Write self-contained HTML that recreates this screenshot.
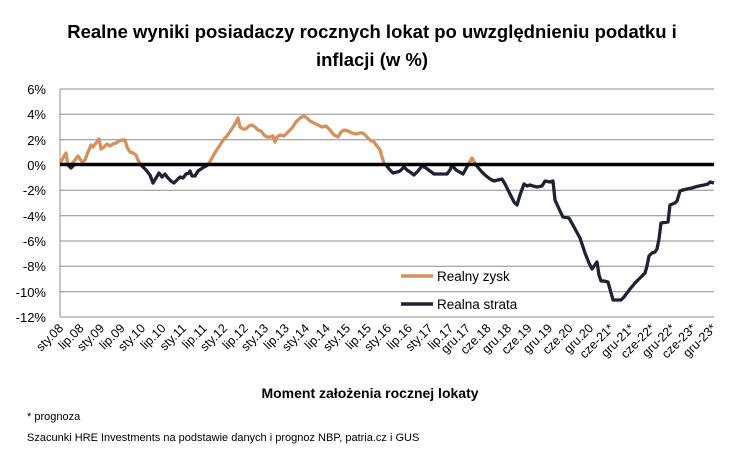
<!DOCTYPE html>
<html><head><meta charset="utf-8"><style>
body{margin:0;background:#fff;}
svg{display:block;font-family:"Liberation Sans",sans-serif;}
</style></head><body>
<svg width="740" height="458" viewBox="0 0 740 458">
<rect width="740" height="458" fill="#fff"/>
<text x="372" y="38" font-size="18.5" font-weight="bold" text-anchor="middle" fill="#000">Realne wyniki posiadaczy rocznych lokat po uwzględnieniu podatku i</text>
<text x="372" y="66" font-size="18.5" font-weight="bold" text-anchor="middle" fill="#000">inflacji (w %)</text>
<g stroke="#8c8c8c" stroke-width="1">
<line x1="60" x2="714" y1="89" y2="89"/><line x1="60" x2="714" y1="114.3" y2="114.3"/>
<line x1="60" x2="714" y1="139.7" y2="139.7"/><line x1="60" x2="714" y1="190.3" y2="190.3"/>
<line x1="60" x2="714" y1="215.7" y2="215.7"/><line x1="60" x2="714" y1="241" y2="241"/>
<line x1="60" x2="714" y1="266.3" y2="266.3"/><line x1="60" x2="714" y1="291.7" y2="291.7"/>
<line x1="60" x2="714" y1="317" y2="317"/><line x1="60" x2="60" y1="89" y2="317"/>
</g>
<g font-size="13" text-anchor="end" fill="#000">
<text x="46" y="94">6%</text><text x="46" y="119">4%</text><text x="46" y="145">2%</text>
<text x="46" y="170">0%</text><text x="46" y="195">-2%</text><text x="46" y="221">-4%</text>
<text x="46" y="246">-6%</text><text x="46" y="271">-8%</text><text x="46" y="297">-10%</text>
<text x="46" y="322">-12%</text>
</g>
<g fill="none" stroke-width="3.3" stroke-linejoin="round">
<polyline stroke="#d4915d" points="60,164 63,158 66,153 68,165 71,165 75,160 78,156 82,162 85,160 88,152 91,145 93,147 96,143 99,139 101,149 104,147 107,144 110,146 113,144 116,143 119,141 122,140 125,140 127,147 130,152 133,153 136,155 138,160 141,165"/>
<polyline stroke="#1f2235" points="68,165 71,168 74,165"/>
<polyline stroke="#1f2235" points="141,165 146,170 150,175 153,183 156,178 159,173 162,177 165,174 168,178 171,181 174,183 177,180 180,177 183,178 186,174 189,173 190,171 192,176 195,176 198,171 201,169 204,167 208,165"/>
<polyline stroke="#d4915d" points="208,165 212,158 216,151 220,145 224,139 227,136 231,130 235,124 238,118 240,127 243,129 246,129 249,126 252,125 255,127 258,130 261,131 264,135 267,137 270,137 273,136 275,142 277,137 280,135 284,136 288,132 292,128 296,122 300,118 304,116 307,118 310,121 314,123 318,125 322,127 326,126 330,130 334,135 338,137 341,132 344,130 348,131 352,133 356,134 360,133 363,133 366,136 370,140 374,142 377,146 380,150 382,157 384,163 386,165"/>
<polyline stroke="#1f2235" points="386,165 390,170 393,173 397,172 400,171 404,167 407,170 410,172 414,175 418,171 422,166 426,168 430,171 434,174 447,174 450,170 452,165"/>
<polyline stroke="#1f2235" points="452,165 456,170 463,174 468,165"/>
<polyline stroke="#d4915d" points="468,165 472,158 476,165"/>
<polyline stroke="#1f2235" points="476,165 481,171 485,175 490,179 494,181 498,180 502,179 505,184 509,192 514,202 517,205 520,195 524,184 527,186 530,185 533,186 537,187 542,186 545,181 550,182 553,181 555,200 560,211 563,217 569,218 574,227 580,238 582,244 585,253 589,263 592,269 597,262 599,275 601,281 604,281 608,282 613,300 621,300 624,297 630,289 635,283 640,278 645,273 647,266 649,256 652,253 655,252 657,249 659,239 661,223 668,222 670,205 675,203 677,201 680,191 683,190 687,189 692,188 695,187 699,186 704,185 708,184 710,182 714,183"/>
</g>
<line x1="60" x2="714" y1="164.5" y2="164.5" stroke="#000" stroke-width="3.5"/>
<line x1="401" x2="433" y1="276" y2="276" stroke="#d4915d" stroke-width="3.5"/>
<line x1="401" x2="433" y1="304" y2="304" stroke="#1f2235" stroke-width="3.5"/>
<text x="437" y="281" font-size="13.5">Realny zysk</text>
<text x="437" y="309" font-size="13.5">Realna strata</text>
<g font-size="12.5" text-anchor="end" fill="#000">
<text transform="translate(64,329) rotate(-45)">sty.08</text>
<text transform="translate(84.5,329) rotate(-45)">lip.08</text>
<text transform="translate(105,329) rotate(-45)">sty.09</text>
<text transform="translate(125.6,329) rotate(-45)">lip.09</text>
<text transform="translate(146,329) rotate(-45)">sty.10</text>
<text transform="translate(166.6,329) rotate(-45)">lip.10</text>
<text transform="translate(187,329) rotate(-45)">sty.11</text>
<text transform="translate(207.7,329) rotate(-45)">lip.11</text>
<text transform="translate(228,329) rotate(-45)">sty.12</text>
<text transform="translate(248.7,329) rotate(-45)">lip.12</text>
<text transform="translate(269,329) rotate(-45)">sty.13</text>
<text transform="translate(289.8,329) rotate(-45)">lip.13</text>
<text transform="translate(310,329) rotate(-45)">sty.14</text>
<text transform="translate(330.8,329) rotate(-45)">lip.14</text>
<text transform="translate(351,329) rotate(-45)">sty.15</text>
<text transform="translate(371.9,329) rotate(-45)">lip.15</text>
<text transform="translate(392,329) rotate(-45)">sty.16</text>
<text transform="translate(412.9,329) rotate(-45)">lip.16</text>
<text transform="translate(433.4,329) rotate(-45)">sty.17</text>
<text transform="translate(454,329) rotate(-45)">lip.17</text>
<text transform="translate(471,329) rotate(-45)">gru.17</text>
<text transform="translate(491.5,329) rotate(-45)">cze.18</text>
<text transform="translate(512,329) rotate(-45)">gru.18</text>
<text transform="translate(532.5,329) rotate(-45)">cze.19</text>
<text transform="translate(553,329) rotate(-45)">gru.19</text>
<text transform="translate(573.6,329) rotate(-45)">cze.20</text>
<text transform="translate(594,329) rotate(-45)">gru.20</text>
<text transform="translate(614.6,329) rotate(-45)">cze-21*</text>
<text transform="translate(635,329) rotate(-45)">gru-21*</text>
<text transform="translate(655.7,329) rotate(-45)">cze-22*</text>
<text transform="translate(676,329) rotate(-45)">gru-22*</text>
<text transform="translate(696.7,329) rotate(-45)">cze-23*</text>
<text transform="translate(717,329) rotate(-45)">gru-23*</text>
</g>
<text x="370" y="398" font-size="14" font-weight="bold" text-anchor="middle">Moment założenia rocznej lokaty</text>
<text x="27" y="420" font-size="11">* prognoza</text>
<text x="27" y="441" font-size="11">Szacunki HRE Investments na podstawie danych i prognoz NBP,  patria.cz  i GUS</text>
</svg>
</body></html>
